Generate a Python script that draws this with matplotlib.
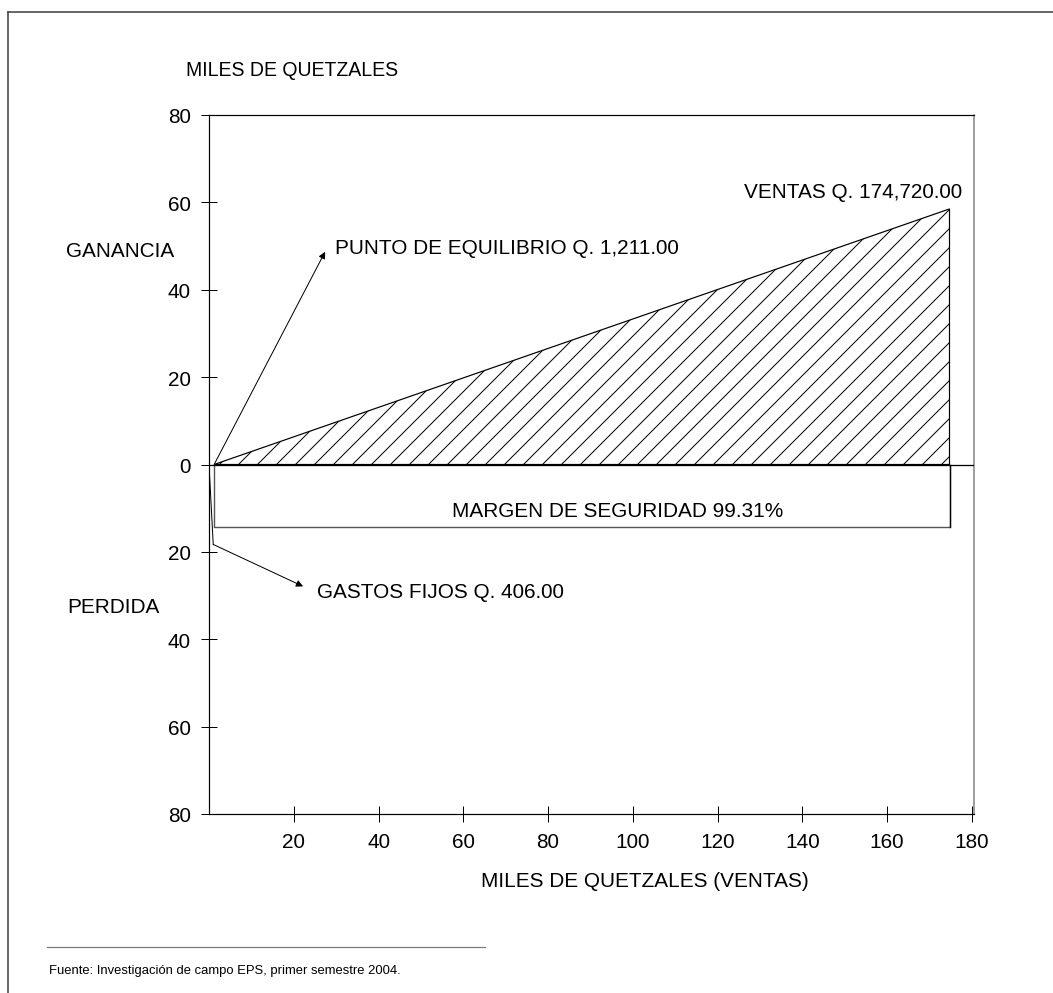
import matplotlib
matplotlib.use("Agg")
import matplotlib.pyplot as plt
from matplotlib.lines import Line2D

# ---------------- data ----------------
equilibrio_x = 1.211          # punto de equilibrio (miles de Q)
ventas_x = 174.72             # ventas (miles de Q)
ventas_y = 58.5               # altura del triangulo de ganancia
margen_y = -14.4              # profundidad del rectangulo de margen
gastos_leader = [0.0, 1.0]    # guia de gastos fijos (x)
gastos_leader_y = [0.0, -18.3]
yticks = [-80, -60, -40, -20, 0, 20, 40, 60, 80]
ytick_labels = ["80", "60", "40", "20", "0", "20", "40", "60", "80"]
xticks = [20, 40, 60, 80, 100, 120, 140, 160, 180]
xtick_labels = ["20", "40", "60", "80", "100", "120", "140", "160", "180"]

# ---------------- layout ----------------
DPI = 114
W, H = 1053, 994
def pt(px):
    return px * 72.0 / DPI

plt.rcParams['font.family'] = ['Liberation Sans', 'DejaVu Sans']
plt.rcParams['hatch.linewidth'] = pt(1.0)

fig = plt.figure(figsize=(W / DPI, H / DPI), dpi=DPI)
fig.patch.set_facecolor('white')

ax = fig.add_axes([209 / W, 1 - 815 / H, (974 - 209) / W, (815 - 116) / H])
ax.set_xlim(0, 180.5)
ax.set_ylim(-80, 80)

FS = pt(20.8)

ax.set_yticks(yticks)
ax.set_yticklabels(ytick_labels)
ax.set_xticks(xticks)
ax.set_xticklabels(xtick_labels)
ax.tick_params(direction='inout', length=pt(16), width=pt(1.0), pad=pt(10),
               labelsize=FS, colors='black')

for s in ['left', 'bottom', 'top']:
    ax.spines[s].set_linewidth(pt(1.2))
    ax.spines[s].set_color('black')
ax.spines['right'].set_linewidth(pt(1.5))
ax.spines['right'].set_color('#808080')

# zero line
ax.axhline(0, color='black', lw=pt(1.3), zorder=3)

# ganancia triangle (hatched)
ax.fill([equilibrio_x, ventas_x, ventas_x], [0, ventas_y, 0],
        facecolor='none', edgecolor='black', hatch='//', lw=pt(1.2), zorder=2)

# margen de seguridad rectangle
ax.plot([equilibrio_x, equilibrio_x, ventas_x, ventas_x],
        [0, margen_y, margen_y, 0], color='#555555', lw=pt(1.4), zorder=2)
ax.plot([ventas_x, ventas_x], [0, margen_y], color='black', lw=pt(1.3), zorder=3)

# gastos fijos leader + arrow
ax.plot(gastos_leader, gastos_leader_y, color='black', lw=pt(1.0), zorder=3)
arrow = dict(arrowstyle='-|>', color='black', lw=pt(1.0), mutation_scale=pt(14),
             shrinkA=0, shrinkB=0)
ax.annotate('', xy=(22.2, -27.9), xytext=(gastos_leader[1], gastos_leader_y[1]),
            arrowprops=arrow)
# punto de equilibrio arrow
ax.annotate('', xy=(27.4, 48.7), xytext=(equilibrio_x, 0), arrowprops=arrow)

# labels in data space
ax.text(29.8, 48.5, 'PUNTO DE EQUILIBRIO Q. 1,211.00', fontsize=FS,
        ha='left', va='baseline')
ax.text(177.8, 61.3, 'VENTAS Q. 174,720.00', fontsize=FS, ha='right', va='baseline')
ax.text(96.5, -11.9, 'MARGEN DE SEGURIDAD 99.31%',
        fontsize=FS, ha='center', va='baseline')
ax.text(25.5, -30.4, 'GASTOS FIJOS Q. 406.00', fontsize=FS, ha='left', va='baseline')

# figure-level texts
def ftext(x, y, s, **kw):
    fig.text(x / W, 1 - y / H, s, **kw)

ftext(186, 76, 'MILES DE QUETZALES', fontsize=pt(19.5), ha='left', va='baseline')
ftext(66, 257, 'GANANCIA', fontsize=FS, ha='left', va='baseline')
ftext(67, 613, 'PERDIDA', fontsize=FS, ha='left', va='baseline')
ftext(645, 887, 'MILES DE QUETZALES (VENTAS)', fontsize=FS, ha='center', va='baseline')
ftext(49, 974, 'Fuente: Investigación de campo EPS, primer semestre 2004.',
      fontsize=pt(13), ha='left', va='baseline')

# outer frame (top and left only) and footer rule
fig.add_artist(Line2D([8 / W, 1.0], [1 - 13 / H, 1 - 13 / H],
                      transform=fig.transFigure, color='#444444', lw=pt(1.6)))
fig.add_artist(Line2D([8 / W, 8 / W], [1 - 13 / H, 0.0],
                      transform=fig.transFigure, color='#444444', lw=pt(1.6)))
fig.add_artist(Line2D([47 / W, 485 / W], [1 - 948 / H, 1 - 948 / H],
                      transform=fig.transFigure, color='#777777', lw=pt(1.2)))

fig.savefig('out.png', dpi=DPI, facecolor='white')
